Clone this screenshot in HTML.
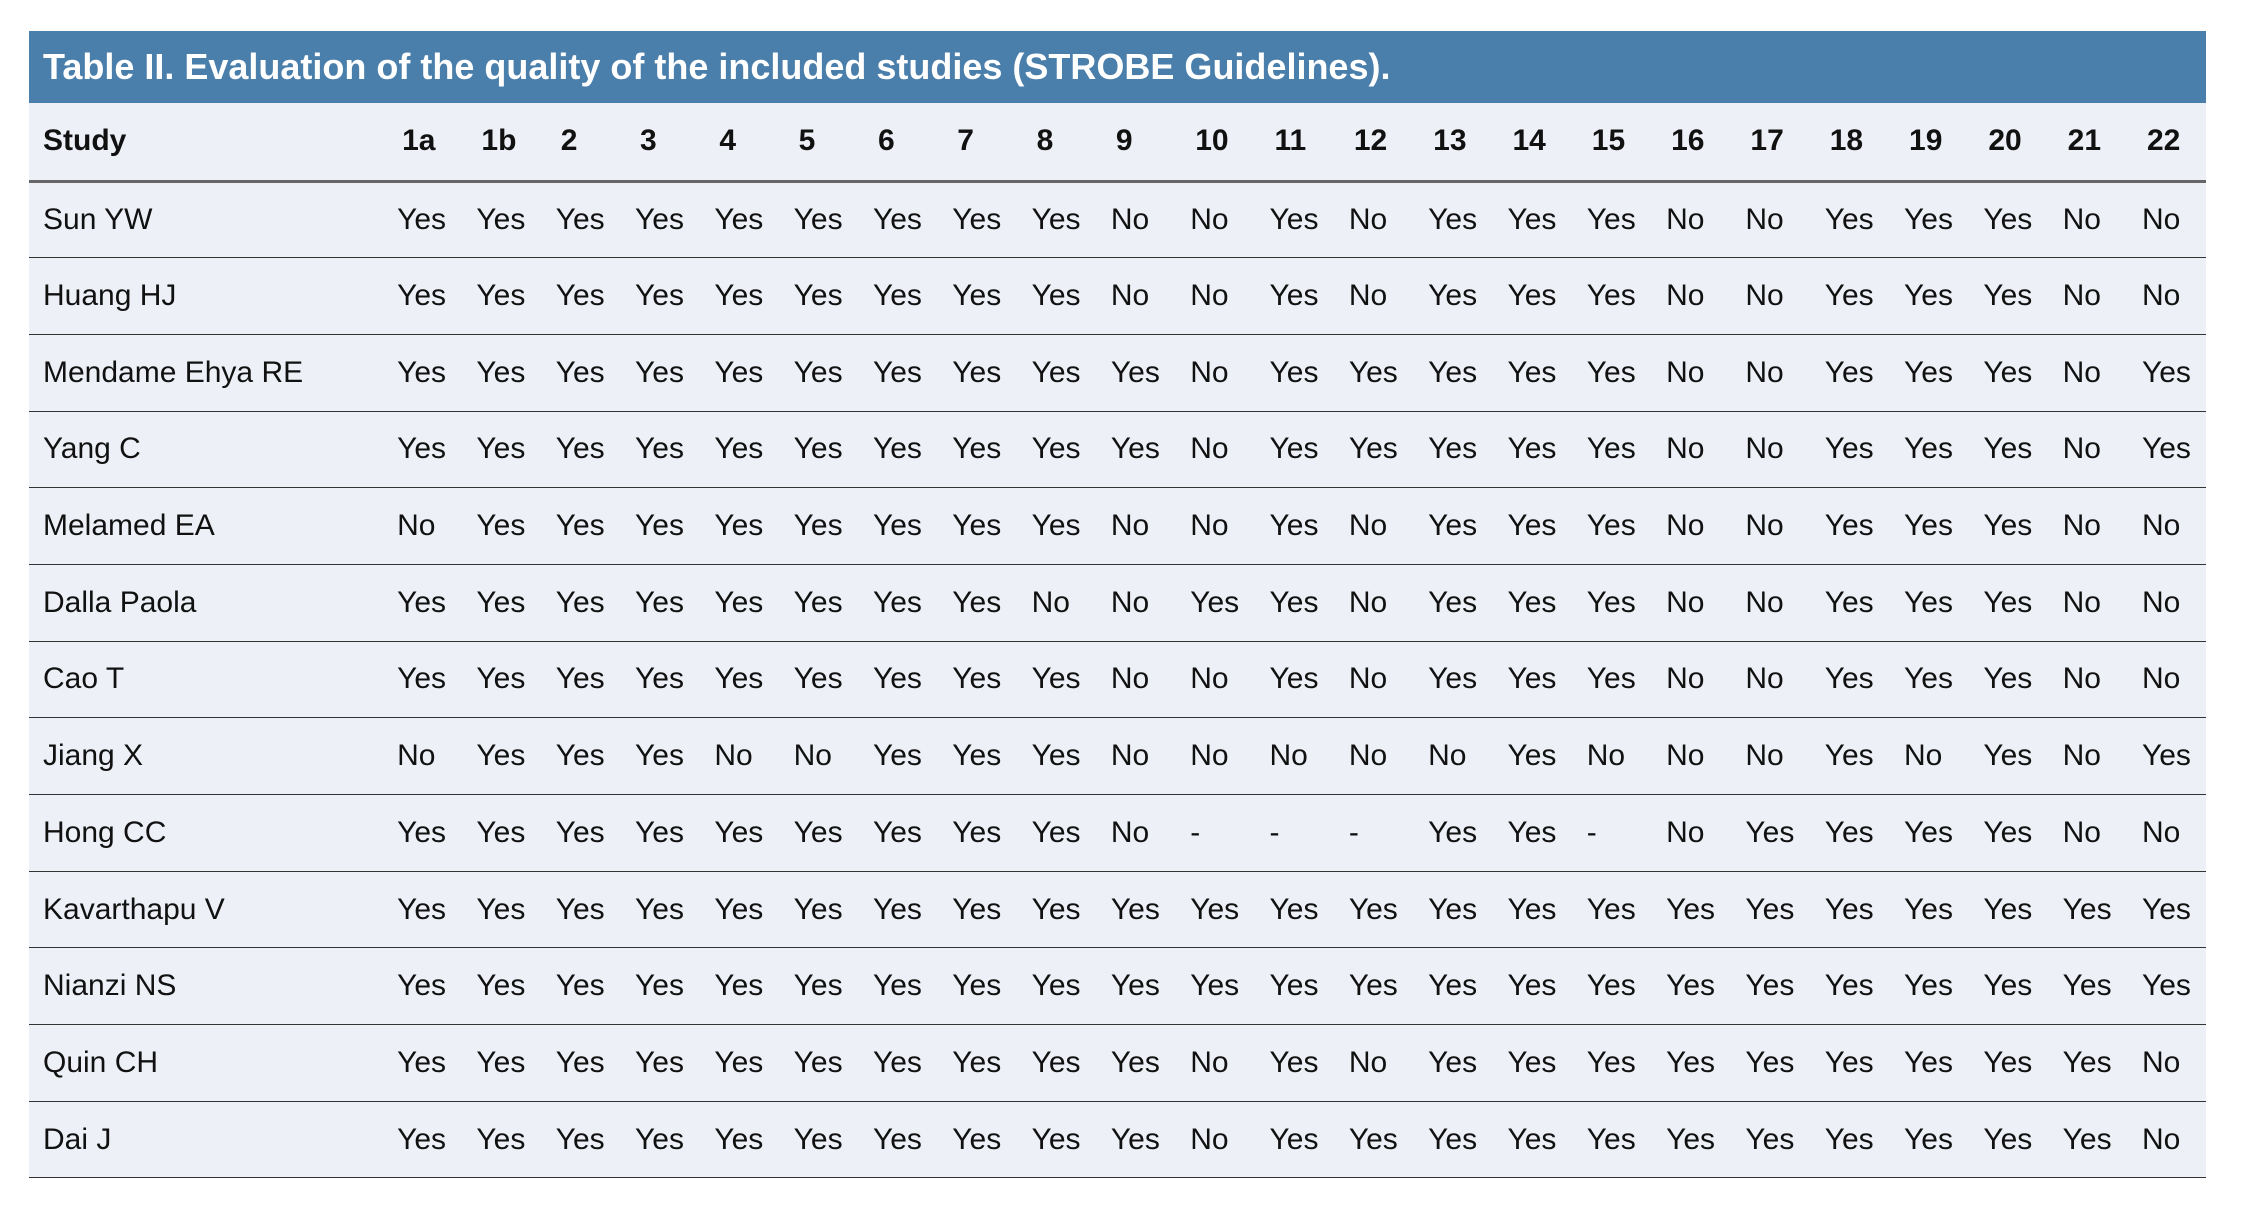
<!DOCTYPE html>
<html><head><meta charset="utf-8"><style>
html,body{margin:0;padding:0;background:#fff;width:2241px;height:1218px;overflow:hidden}
.wrap{position:absolute;left:29px;top:31px;width:2177px}
.title{background:#4a7eab;height:72px;color:#fff;font:bold 36px "Liberation Sans",sans-serif;line-height:72px;padding-left:14px;box-sizing:border-box;letter-spacing:0px}
table{border-collapse:collapse;table-layout:fixed;width:2177px;background:#edf0f7;font:30px "Liberation Sans",sans-serif;color:#111}
td,th{height:76.7px;padding:0;text-align:left;border-bottom:1.5px solid #333;white-space:nowrap;overflow:hidden;box-sizing:border-box}
th{font-weight:bold;border-bottom:3px solid #666;height:78px}
td:first-child,th:first-child{padding-left:14px}
th:not(:first-child){padding-left:5px}
</style></head><body>
<div class="wrap">
<div class="title">Table II. Evaluation of the quality of the included studies (STROBE Guidelines).</div>
<table>
<colgroup><col style="width:368px"><col span="22" style="width:79.3px"><col style="width:64px"></colgroup>
<tr><th>Study</th><th>1a</th><th>1b</th><th>2</th><th>3</th><th>4</th><th>5</th><th>6</th><th>7</th><th>8</th><th>9</th><th>10</th><th>11</th><th>12</th><th>13</th><th>14</th><th>15</th><th>16</th><th>17</th><th>18</th><th>19</th><th>20</th><th>21</th><th>22</th></tr>
<tr><td>Sun YW</td><td>Yes</td><td>Yes</td><td>Yes</td><td>Yes</td><td>Yes</td><td>Yes</td><td>Yes</td><td>Yes</td><td>Yes</td><td>No</td><td>No</td><td>Yes</td><td>No</td><td>Yes</td><td>Yes</td><td>Yes</td><td>No</td><td>No</td><td>Yes</td><td>Yes</td><td>Yes</td><td>No</td><td>No</td></tr>
<tr><td>Huang HJ</td><td>Yes</td><td>Yes</td><td>Yes</td><td>Yes</td><td>Yes</td><td>Yes</td><td>Yes</td><td>Yes</td><td>Yes</td><td>No</td><td>No</td><td>Yes</td><td>No</td><td>Yes</td><td>Yes</td><td>Yes</td><td>No</td><td>No</td><td>Yes</td><td>Yes</td><td>Yes</td><td>No</td><td>No</td></tr>
<tr><td>Mendame Ehya RE</td><td>Yes</td><td>Yes</td><td>Yes</td><td>Yes</td><td>Yes</td><td>Yes</td><td>Yes</td><td>Yes</td><td>Yes</td><td>Yes</td><td>No</td><td>Yes</td><td>Yes</td><td>Yes</td><td>Yes</td><td>Yes</td><td>No</td><td>No</td><td>Yes</td><td>Yes</td><td>Yes</td><td>No</td><td>Yes</td></tr>
<tr><td>Yang C</td><td>Yes</td><td>Yes</td><td>Yes</td><td>Yes</td><td>Yes</td><td>Yes</td><td>Yes</td><td>Yes</td><td>Yes</td><td>Yes</td><td>No</td><td>Yes</td><td>Yes</td><td>Yes</td><td>Yes</td><td>Yes</td><td>No</td><td>No</td><td>Yes</td><td>Yes</td><td>Yes</td><td>No</td><td>Yes</td></tr>
<tr><td>Melamed EA</td><td>No</td><td>Yes</td><td>Yes</td><td>Yes</td><td>Yes</td><td>Yes</td><td>Yes</td><td>Yes</td><td>Yes</td><td>No</td><td>No</td><td>Yes</td><td>No</td><td>Yes</td><td>Yes</td><td>Yes</td><td>No</td><td>No</td><td>Yes</td><td>Yes</td><td>Yes</td><td>No</td><td>No</td></tr>
<tr><td>Dalla Paola</td><td>Yes</td><td>Yes</td><td>Yes</td><td>Yes</td><td>Yes</td><td>Yes</td><td>Yes</td><td>Yes</td><td>No</td><td>No</td><td>Yes</td><td>Yes</td><td>No</td><td>Yes</td><td>Yes</td><td>Yes</td><td>No</td><td>No</td><td>Yes</td><td>Yes</td><td>Yes</td><td>No</td><td>No</td></tr>
<tr><td>Cao T</td><td>Yes</td><td>Yes</td><td>Yes</td><td>Yes</td><td>Yes</td><td>Yes</td><td>Yes</td><td>Yes</td><td>Yes</td><td>No</td><td>No</td><td>Yes</td><td>No</td><td>Yes</td><td>Yes</td><td>Yes</td><td>No</td><td>No</td><td>Yes</td><td>Yes</td><td>Yes</td><td>No</td><td>No</td></tr>
<tr><td>Jiang X</td><td>No</td><td>Yes</td><td>Yes</td><td>Yes</td><td>No</td><td>No</td><td>Yes</td><td>Yes</td><td>Yes</td><td>No</td><td>No</td><td>No</td><td>No</td><td>No</td><td>Yes</td><td>No</td><td>No</td><td>No</td><td>Yes</td><td>No</td><td>Yes</td><td>No</td><td>Yes</td></tr>
<tr><td>Hong CC</td><td>Yes</td><td>Yes</td><td>Yes</td><td>Yes</td><td>Yes</td><td>Yes</td><td>Yes</td><td>Yes</td><td>Yes</td><td>No</td><td>-</td><td>-</td><td>-</td><td>Yes</td><td>Yes</td><td>-</td><td>No</td><td>Yes</td><td>Yes</td><td>Yes</td><td>Yes</td><td>No</td><td>No</td></tr>
<tr><td>Kavarthapu V</td><td>Yes</td><td>Yes</td><td>Yes</td><td>Yes</td><td>Yes</td><td>Yes</td><td>Yes</td><td>Yes</td><td>Yes</td><td>Yes</td><td>Yes</td><td>Yes</td><td>Yes</td><td>Yes</td><td>Yes</td><td>Yes</td><td>Yes</td><td>Yes</td><td>Yes</td><td>Yes</td><td>Yes</td><td>Yes</td><td>Yes</td></tr>
<tr><td>Nianzi NS</td><td>Yes</td><td>Yes</td><td>Yes</td><td>Yes</td><td>Yes</td><td>Yes</td><td>Yes</td><td>Yes</td><td>Yes</td><td>Yes</td><td>Yes</td><td>Yes</td><td>Yes</td><td>Yes</td><td>Yes</td><td>Yes</td><td>Yes</td><td>Yes</td><td>Yes</td><td>Yes</td><td>Yes</td><td>Yes</td><td>Yes</td></tr>
<tr><td>Quin CH</td><td>Yes</td><td>Yes</td><td>Yes</td><td>Yes</td><td>Yes</td><td>Yes</td><td>Yes</td><td>Yes</td><td>Yes</td><td>Yes</td><td>No</td><td>Yes</td><td>No</td><td>Yes</td><td>Yes</td><td>Yes</td><td>Yes</td><td>Yes</td><td>Yes</td><td>Yes</td><td>Yes</td><td>Yes</td><td>No</td></tr>
<tr><td>Dai J</td><td>Yes</td><td>Yes</td><td>Yes</td><td>Yes</td><td>Yes</td><td>Yes</td><td>Yes</td><td>Yes</td><td>Yes</td><td>Yes</td><td>No</td><td>Yes</td><td>Yes</td><td>Yes</td><td>Yes</td><td>Yes</td><td>Yes</td><td>Yes</td><td>Yes</td><td>Yes</td><td>Yes</td><td>Yes</td><td>No</td></tr>
</table>
</div>
</body></html>
